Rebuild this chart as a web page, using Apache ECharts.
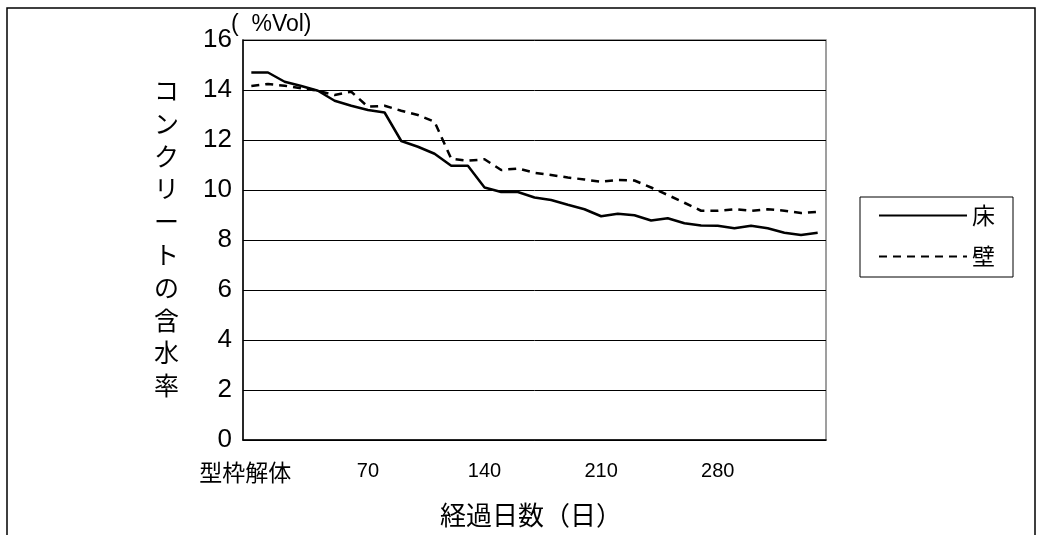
<!DOCTYPE html>
<html>
<head>
<meta charset="utf-8">
<script src="https://cdn.jsdelivr.net/npm/echarts@6/dist/echarts.min.js"></script>
<style>
html,body{margin:0;padding:0;background:#fff;}
#chart{width:1044px;height:535px;}
</style>
</head>
<body>
<div id="chart"></div>
<script>
// Days since formwork removal (10-day steps)
const days = [0,10,20,30,40,50,60,70,80,90,100,110,120,130,140,150,160,170,180,190,200,210,220,230,240,250,260,270,280,290,300,310,320,330,340];
const xTickLabels = days.map(d => d === 0 ? '型枠解体' : String(d));
const yTicks = [0,2,4,6,8,10,12,14,16];
// 床 (floor)
const floorVals = [14.7,14.7,14.33,14.16,13.97,13.57,13.37,13.2,13.1,11.96,11.73,11.45,10.97,10.97,10.1,9.92,9.92,9.7,9.6,9.41,9.23,8.95,9.05,8.99,8.78,8.87,8.67,8.58,8.57,8.47,8.57,8.47,8.29,8.2,8.29];
// 壁 (wall)
const wallVals = [14.16,14.24,14.17,14.07,13.97,13.8,13.93,13.33,13.37,13.17,13.0,12.73,11.25,11.17,11.23,10.8,10.86,10.69,10.6,10.5,10.42,10.33,10.4,10.38,10.1,9.8,9.49,9.17,9.17,9.23,9.17,9.23,9.17,9.08,9.13];
const seriesNames = ['床','壁'];
const yName = 'コンクリートの含水率';
const unitText = '(  %Vol)';
const xName = '経過日数（日）';

const chart = echarts.init(document.getElementById('chart'));
const latin = '"Liberation Sans", Arial, sans-serif';
const jp = '"Noto Sans CJK JP", "Liberation Sans", sans-serif';

chart.setOption({
  animation: false,
  backgroundColor: '#fff',
  grid: {left: 243, right: 218, top: 40, bottom: 95, show: true, borderColor: '#808080', borderWidth: 1.5},
  xAxis: {
    type: 'category',
    data: xTickLabels,
    boundaryGap: true,
    axisLine: {lineStyle: {color: '#000', width: 1.5}},
    axisTick: {inside: true, length: 5, interval: 0, lineStyle: {color: '#000'}},
    axisLabel: {
      interval: 6,
      margin: 21,
      color: '#000',
      fontSize: 20,
      fontFamily: latin,
      formatter: v => /^\d+$/.test(v) ? v : '{jp|' + v + '}',
      rich: {jp: {fontSize: 23, fontFamily: jp, color: '#000', padding: [0, 12, 0, 0]}}
    },
    splitLine: {show: false}
  },
  yAxis: {
    type: 'value',
    min: 0, max: 16, interval: 2,
    axisLine: {show: true, lineStyle: {color: '#000', width: 1.5}},
    axisTick: {show: false},
    axisLabel: {color: '#000', fontSize: 26, fontFamily: latin, margin: 11,
      formatter: v => yTicks.includes(v) ? String(v) : ''},
    splitLine: {show: true, lineStyle: {color: '#000', width: 1}}
  },
  legend: {
    orient: 'vertical',
    left: 860, top: 197,
    padding: [7, 18, 9, 18],
    borderColor: '#000', borderWidth: 1,
    backgroundColor: '#fff',
    itemWidth: 88, itemHeight: 14, itemGap: 18,
    itemStyle: {opacity: 0},
    textStyle: {color: '#000', fontSize: 23, fontFamily: jp},
    data: seriesNames
  },
  series: [
    {
      name: seriesNames[0], type: 'line', data: floorVals,
      symbol: 'none', smooth: false,
      lineStyle: {color: '#000', width: 2.5, type: 'solid'},
      itemStyle: {color: '#000'}
    },
    {
      name: seriesNames[1], type: 'line', data: wallVals,
      symbol: 'none', smooth: false,
      lineStyle: {color: '#000', width: 2.5, type: [8, 6]},
      itemStyle: {color: '#000'}
    }
  ],
  graphic: [
    {type: 'rect', shape: {x: 7, y: 8, width: 1028, height: 560}, style: {fill: null, stroke: '#000', lineWidth: 1.5}, z: -1, silent: true},
    {type: 'text', left: 231, top: 13, style: {text: unitText, fontSize: 23, fontFamily: latin, fill: '#000'}},
    {type: 'text', left: 154, top: 74, style: {text: yName.split('').join('\n'), fontSize: 25, lineHeight: 32.8, fontFamily: jp, fill: '#000', align: 'center'}},
    {type: 'text', x: 531, y: 515, style: {text: xName, fontSize: 26, fontFamily: jp, fill: '#000', align: 'center', verticalAlign: 'middle'}}
  ]
});
</script>
</body>
</html>
